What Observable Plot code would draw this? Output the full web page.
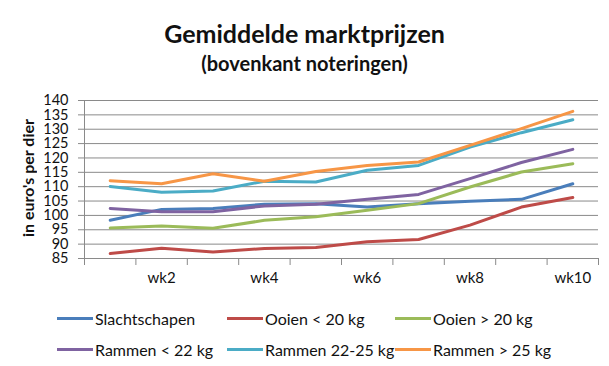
<!DOCTYPE html>
<html>
<head>
<meta charset="utf-8">
<script src="https://cdn.jsdelivr.net/npm/d3@7"></script>
<script src="https://cdn.jsdelivr.net/npm/@observablehq/plot@0.6"></script>
<style>
  html, body { margin: 0; padding: 0; background: #fff; }
  #wrap { position: relative; width: 609px; height: 366px; font-family: Lato, "Open Sans", sans-serif; color: #111; overflow: hidden; }
  #title { position: absolute; left: 0; width: 609px; top: 18px; text-align: center; font-size: 25px; font-weight: bold; line-height: 30px; }
  #subtitle { position: absolute; left: 0; width: 609px; top: 51px; text-align: center; font-size: 20px; font-weight: bold; line-height: 24px; }
  #ylabel { position: absolute; left: 19px; top: 118px; height: 120px; width: 18px; writing-mode: vertical-rl; transform: rotate(180deg); text-align: center; font-size: 16px; font-weight: bold; white-space: nowrap; line-height: 18px; }
  #chart { position: absolute; left: 0; top: 90px; }
  .leg { position: absolute; display: flex; align-items: center; font-size: 16px; white-space: nowrap; }
  .leg span.sw { display: inline-block; width: 36px; height: 3px; margin-right: 2px; }
</style>
</head>
<body>
<div id="wrap">
  <div id="title">Gemiddelde marktprijzen</div>
  <div id="subtitle">(bovenkant noteringen)</div>
  <div id="ylabel">in euro's per dier</div>
  <div id="chart"></div>
  <div id="legend"></div>
</div>
<script>
const weeks = [1, 2, 3, 4, 5, 6, 7, 8, 9, 10];
const weekLabels = ["wk1", "wk2", "wk3", "wk4", "wk5", "wk6", "wk7", "wk8", "wk9", "wk10"];
const labelledWeeks = [2, 4, 6, 8, 10];
const yTicks = [85, 90, 95, 100, 105, 110, 115, 120, 125, 130, 135, 140];

const seriesNames = ["Slachtschapen", "Ooien < 20 kg", "Ooien > 20 kg", "Rammen < 22 kg", "Rammen 22-25 kg", "Rammen > 25 kg"];
const slachtschapen = [98.3, 102.1, 102.4, 103.9, 104.1, 102.9, 104.1, 104.9, 105.6, 111.0];
const ooienLicht    = [86.7, 88.6, 87.3, 88.5, 88.8, 90.8, 91.6, 96.6, 102.9, 106.2];
const ooienZwaar    = [95.6, 96.3, 95.5, 98.3, 99.5, 101.8, 104.1, 109.9, 115.1, 118.0];
const rammenLicht   = [102.4, 101.3, 101.3, 103.3, 103.9, 105.6, 107.3, 112.8, 118.4, 123.0];
const rammenMidden  = [110.1, 108.1, 108.5, 111.9, 111.6, 115.7, 117.4, 123.8, 128.8, 133.3];
const rammenZwaar   = [112.1, 111.0, 114.5, 111.9, 115.3, 117.4, 118.6, 124.4, 130.2, 136.2];
const colors = ["#4A7EBB", "#BE4B48", "#9BBB59", "#7F63A1", "#4BACC6", "#F79646"];

const seriesValues = [slachtschapen, ooienLicht, ooienZwaar, rammenLicht, rammenMidden, rammenZwaar];
const data = seriesNames.flatMap((name, i) =>
  seriesValues[i].map((v, j) => ({series: name, week: weeks[j], value: v}))
);
const boundaries = d3.range(weeks[0] - 0.5, weeks[weeks.length - 1] + 1, 1);
const grid = "#8a8a8a";

const plot = Plot.plot({
  width: 609,
  height: 200,
  marginLeft: 84,
  marginRight: 11,
  marginTop: 10,
  marginBottom: 32,
  style: {fontFamily: "Lato, 'Open Sans', sans-serif", color: "#111", background: "transparent"},
  x: {domain: [weeks[0] - 0.5, weeks[weeks.length - 1] + 0.5], label: null},
  y: {domain: [85, 140], label: null},
  color: {domain: seriesNames, range: colors},
  marks: [
    Plot.gridY(yTicks, {stroke: grid, strokeOpacity: 1}),
    Plot.axisY(yTicks, {tickSize: 6, stroke: grid, tickFormat: () => "", label: null}),
    Plot.axisY(yTicks, {tickSize: 0, tickPadding: 16, fontSize: 14.5, fill: "#111", label: null}),
    Plot.ruleX([boundaries[0]], {y1: 85, y2: 140, stroke: grid}),
    Plot.ruleY([85], {stroke: grid}),
    Plot.axisX(boundaries, {tickSize: 7, stroke: grid, tickFormat: () => "", label: null}),
    Plot.axisX(labelledWeeks, {tickSize: 0, tickPadding: 14, fontSize: 15, fill: "#111", tickFormat: d => weekLabels[d - 1], label: null}),
    Plot.line(data, {x: "week", y: "value", z: "series", stroke: "series", strokeWidth: 3, strokeLinejoin: "round"})
  ]
});
document.getElementById("chart").appendChild(plot);

const legendPos = [[57, 318], [227, 318], [395, 318], [57, 349], [227, 349], [395, 349]];
const legend = document.getElementById("legend");
seriesNames.forEach((name, i) => {
  const d = document.createElement("div");
  d.className = "leg";
  d.style.left = legendPos[i][0] + "px";
  d.style.top = (legendPos[i][1] - 10) + "px";
  d.style.height = "20px";
  const sw = document.createElement("span");
  sw.className = "sw";
  sw.style.background = colors[i];
  d.appendChild(sw);
  d.appendChild(document.createTextNode(name));
  legend.appendChild(d);
});
</script>
</body>
</html>
